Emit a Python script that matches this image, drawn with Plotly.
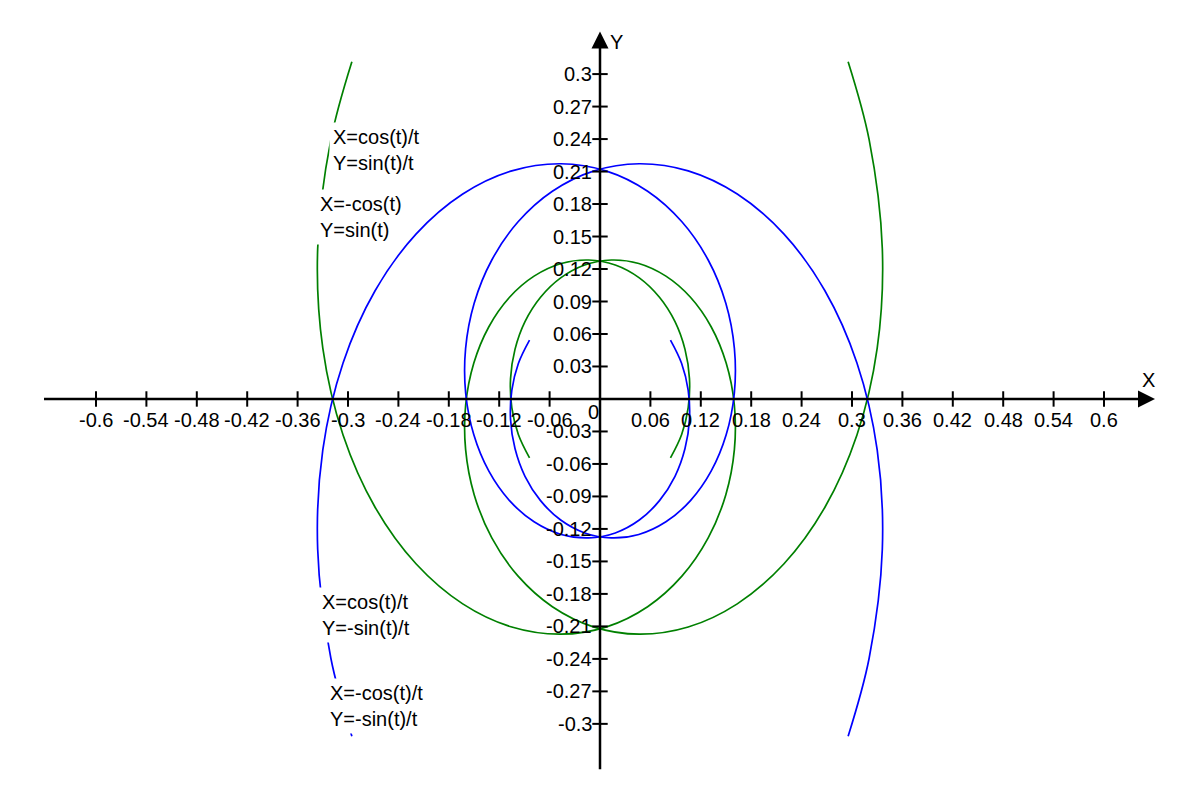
import plotly.graph_objects as go

# points read along each spiral branch (outer end -> inner end)
green_a_x = [-0.2954, -0.3204, -0.3361, -0.3300, -0.3059, -0.2676, -0.2188, -0.1634,
             -0.1050, -0.0468, 0.0079, 0.0567, 0.0975, 0.1288, 0.1498, 0.1600,
             0.1599, 0.1502, 0.1323, 0.1077, 0.0785, 0.0462, 0.0134, -0.0182,
             -0.0468, -0.0708, -0.0893, -0.1012, -0.1065, -0.1050, -0.0972, -0.0839]
green_a_y = [0.3114, 0.2394, 0.1388, 0.0470, -0.0333, -0.1002, -0.1524, -0.1892,
             -0.2106, -0.2172, -0.2104, -0.1918, -0.1636, -0.1283, -0.0884, -0.0466,
             -0.0053, 0.0331, 0.0667, 0.0939, 0.1134, 0.1251, 0.1283, 0.1237,
             0.1118, 0.0939, 0.0714, 0.0458, 0.0188, -0.0079, -0.0328, -0.0544]

green_b_x = [0.2954, 0.3204, 0.3361, 0.3300, 0.3059, 0.2676, 0.2188, 0.1634,
             0.1050, 0.0468, -0.0079, -0.0567, -0.0975, -0.1288, -0.1498, -0.1600,
             -0.1599, -0.1502, -0.1323, -0.1077, -0.0785, -0.0462, -0.0134, 0.0182,
             0.0468, 0.0708, 0.0893, 0.1012, 0.1065, 0.1050, 0.0972, 0.0839]
green_b_y = [0.3114, 0.2394, 0.1388, 0.0470, -0.0333, -0.1002, -0.1524, -0.1892,
             -0.2106, -0.2172, -0.2104, -0.1918, -0.1636, -0.1283, -0.0884, -0.0466,
             -0.0053, 0.0331, 0.0667, 0.0939, 0.1134, 0.1251, 0.1283, 0.1237,
             0.1118, 0.0939, 0.0714, 0.0458, 0.0188, -0.0079, -0.0328, -0.0544]

blue_c_x = [-0.2954, -0.3204, -0.3361, -0.3300, -0.3059, -0.2676, -0.2188, -0.1634,
            -0.1050, -0.0468, 0.0079, 0.0567, 0.0975, 0.1288, 0.1498, 0.1600,
            0.1599, 0.1502, 0.1323, 0.1077, 0.0785, 0.0462, 0.0134, -0.0182,
            -0.0468, -0.0708, -0.0893, -0.1012, -0.1065, -0.1050, -0.0972, -0.0839]
blue_c_y = [-0.3114, -0.2394, -0.1388, -0.0470, 0.0333, 0.1002, 0.1524, 0.1892,
            0.2106, 0.2172, 0.2104, 0.1918, 0.1636, 0.1283, 0.0884, 0.0466,
            0.0053, -0.0331, -0.0667, -0.0939, -0.1134, -0.1251, -0.1283, -0.1237,
            -0.1118, -0.0939, -0.0714, -0.0458, -0.0188, 0.0079, 0.0328, 0.0544]

blue_d_x = [0.2954, 0.3204, 0.3361, 0.3300, 0.3059, 0.2676, 0.2188, 0.1634,
            0.1050, 0.0468, -0.0079, -0.0567, -0.0975, -0.1288, -0.1498, -0.1600,
            -0.1599, -0.1502, -0.1323, -0.1077, -0.0785, -0.0462, -0.0134, 0.0182,
            0.0468, 0.0708, 0.0893, 0.1012, 0.1065, 0.1050, 0.0972, 0.0839]
blue_d_y = [-0.3114, -0.2394, -0.1388, -0.0470, 0.0333, 0.1002, 0.1524, 0.1892,
            0.2106, 0.2172, 0.2104, 0.1918, 0.1636, 0.1283, 0.0884, 0.0466,
            0.0053, -0.0331, -0.0667, -0.0939, -0.1134, -0.1251, -0.1283, -0.1237,
            -0.1118, -0.0939, -0.0714, -0.0458, -0.0188, 0.0079, 0.0328, 0.0544]

x_ticks = [-0.6, -0.54, -0.48, -0.42, -0.36, -0.3, -0.24, -0.18, -0.12, -0.06,
           0.06, 0.12, 0.18, 0.24, 0.3, 0.36, 0.42, 0.48, 0.54, 0.6]
x_tick_text = ["-0.6", "-0.54", "-0.48", "-0.42", "-0.36", "-0.3", "-0.24", "-0.18", "-0.12", "-0.06",
               "0.06", "0.12", "0.18", "0.24", "0.3", "0.36", "0.42", "0.48", "0.54", "0.6"]
y_ticks = [0.3, 0.27, 0.24, 0.21, 0.18, 0.15, 0.12, 0.09, 0.06, 0.03,
           -0.03, -0.06, -0.09, -0.12, -0.15, -0.18, -0.21, -0.24, -0.27, -0.3]
y_tick_text = ["0.3", "0.27", "0.24", "0.21", "0.18", "0.15", "0.12", "0.09", "0.06", "0.03",
               "-0.03", "-0.06", "-0.09", "-0.12", "-0.15", "-0.18", "-0.21", "-0.24", "-0.27", "-0.3"]

curve_labels = ["X=cos(t)/t<br>Y=sin(t)/t", "X=-cos(t)<br>Y=sin(t)",
                "X=cos(t)/t<br>Y=-sin(t)/t", "X=-cos(t)/t<br>Y=-sin(t)/t"]
label_x = [-0.3190, -0.3345, -0.3325, -0.3223]
label_y = [0.2299, 0.1681, -0.1999, -0.2835]

GREEN = "#008000"
BLUE = "#0000ff"
FONT = "Liberation Sans, Arial, sans-serif"
FS = 20

fig = go.Figure()

for xs, ys, col in [(green_a_x, green_a_y, GREEN), (green_b_x, green_b_y, GREEN),
                    (blue_c_x, blue_c_y, BLUE), (blue_d_x, blue_d_y, BLUE)]:
    fig.add_trace(go.Scatter(x=xs, y=ys, mode="lines",
                             line=dict(color=col, width=1.7, shape="spline"),
                             hoverinfo="skip"))

# axis lines
fig.add_trace(go.Scatter(x=[-0.6619, 0.65], y=[0, 0], mode="lines",
                         line=dict(color="black", width=2.5), hoverinfo="skip"))
fig.add_trace(go.Scatter(x=[0, 0], y=[-0.3419, 0.33], mode="lines",
                         line=dict(color="black", width=2.5), hoverinfo="skip"))
# arrow heads
fig.add_trace(go.Scatter(x=[0.6607], y=[0], mode="markers",
                         marker=dict(symbol="arrow-right", size=17, color="black",
                                     line=dict(width=0)), hoverinfo="skip"))
fig.add_trace(go.Scatter(x=[0], y=[0.3392], mode="markers",
                         marker=dict(symbol="arrow-up", size=17, color="black",
                                     line=dict(width=0)), hoverinfo="skip"))
# tick marks
fig.add_trace(go.Scatter(x=x_ticks, y=[0] * len(x_ticks), mode="markers",
                         marker=dict(symbol="line-ns", size=11,
                                     line=dict(color="black", width=2)), hoverinfo="skip"))
fig.add_trace(go.Scatter(x=[0] * len(y_ticks), y=y_ticks, mode="markers",
                         marker=dict(symbol="line-ew", size=11,
                                     line=dict(color="black", width=2)), hoverinfo="skip"))

ann = []
for v, s in zip(x_ticks, x_tick_text):
    ann.append(dict(x=v, y=0, text=s, showarrow=False, xanchor="center",
                    yanchor="middle", yshift=-21, font=dict(size=FS, color="black", family=FONT)))
for v, s in zip(y_ticks, y_tick_text):
    ann.append(dict(x=0, y=v, text=s, showarrow=False, xanchor="right",
                    yanchor="middle", xshift=-6, font=dict(size=FS, color="black", family=FONT)))
ann.append(dict(x=0, y=0, text="0", showarrow=False, xanchor="center", yanchor="middle",
                xshift=-7, yshift=-13, font=dict(size=FS, color="black", family=FONT)))
ann.append(dict(x=0.6524, y=0.0175, text="X", showarrow=False, xanchor="center",
                yanchor="middle", font=dict(size=FS, color="black", family=FONT)))
ann.append(dict(x=0.0202, y=0.3296, text="Y", showarrow=False, xanchor="center",
                yanchor="middle", font=dict(size=FS, color="black", family=FONT)))
for s, lx, ly in zip(curve_labels, label_x, label_y):
    ann.append(dict(x=lx, y=ly, text=s, showarrow=False, xanchor="left", yanchor="middle",
                    xshift=-3, align="left", bgcolor="white", borderpad=3,
                    font=dict(size=FS, color="black", family=FONT)))

fig.update_layout(
    width=1200, height=800,
    margin=dict(l=0, r=0, t=0, b=0),
    paper_bgcolor="white", plot_bgcolor="white",
    showlegend=False,
    xaxis=dict(range=[-0.71429, 0.71429], visible=False, fixedrange=True),
    yaxis=dict(range=[-0.3703, 0.3684], visible=False, fixedrange=True),
    annotations=ann,
)

# drop the default page margin so the figure sits at the window corner
fig.write_html("out.html", config={"displayModeBar": False},
               post_script="document.body.style.margin='0px';")
